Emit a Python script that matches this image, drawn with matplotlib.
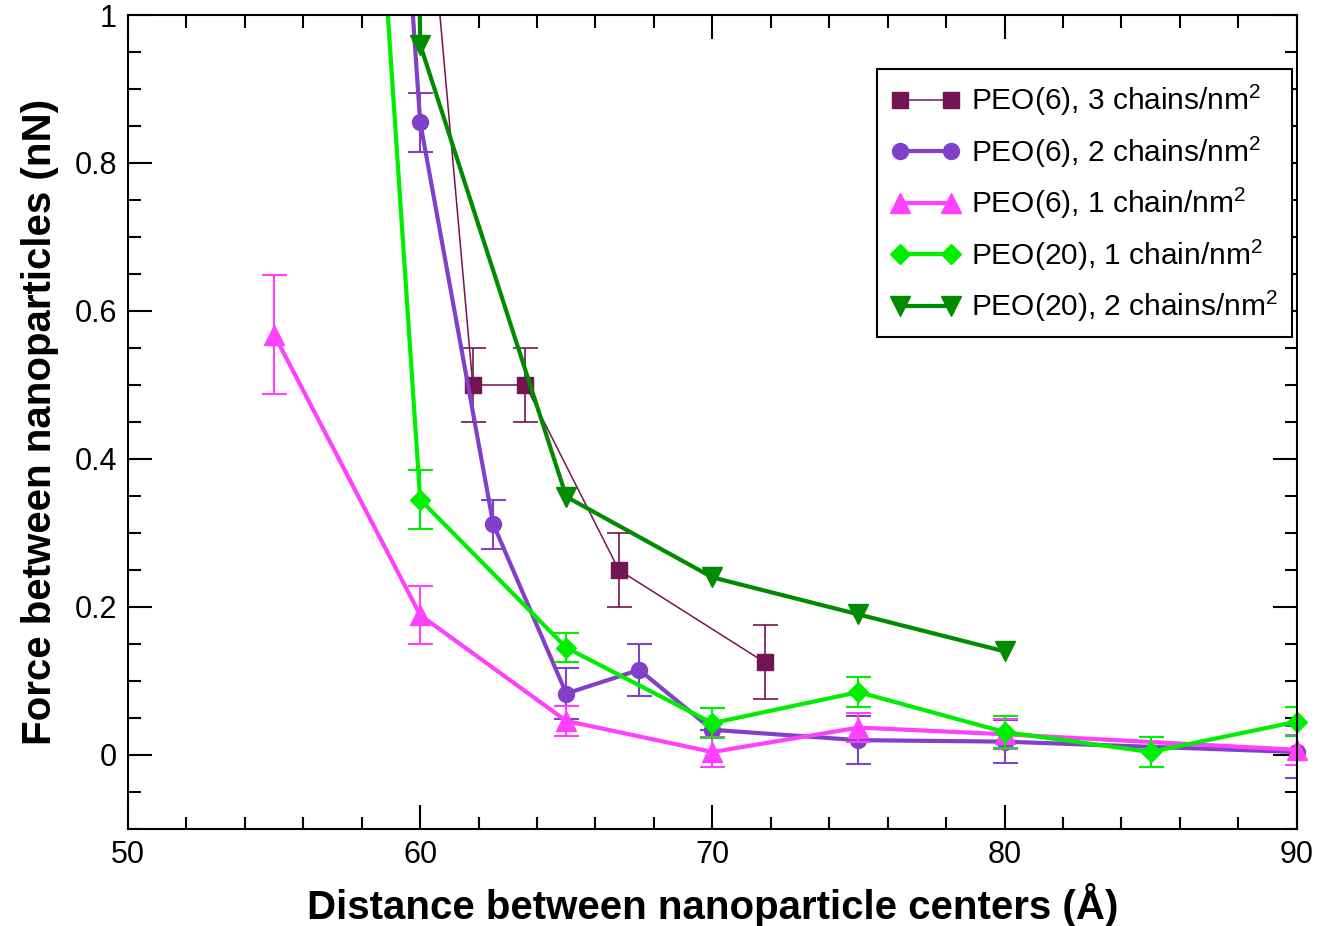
import numpy as np
import matplotlib
matplotlib.use('Agg')
import matplotlib.pyplot as plt
from matplotlib.lines import Line2D
from matplotlib.ticker import MultipleLocator

plt.rcParams['font.family'] = ['Liberation Sans', 'DejaVu Sans']
plt.rcParams['mathtext.fontset'] = 'custom'
plt.rcParams['mathtext.rm'] = 'Liberation Sans'

# PEO(6), 3 chains/nm^2
x_p6_3 = [60.0, 61.8, 63.6, 66.8, 71.8]
y_p6_3 = [1.30, 0.50, 0.50, 0.25, 0.125]
e_p6_3 = [0.0, 0.05, 0.05, 0.05, 0.05]

# PEO(6), 2 chains/nm^2
x_p6_2 = [57.5, 60, 62.5, 65, 67.5, 70, 75, 80, 90]
y_p6_2 = [2.30, 0.855, 0.312, 0.083, 0.115, 0.034, 0.020, 0.018, 0.004]
e_p6_2 = [0.0, 0.04, 0.033, 0.035, 0.035, 0.0, 0.032, 0.029, 0.035]

# PEO(6), 1 chain/nm^2
x_p6_1 = [55, 60, 65, 70, 75, 80, 90]
y_p6_1 = [0.568, 0.189, 0.046, 0.004, 0.037, 0.028, 0.007]
e_p6_1 = [0.08, 0.039, 0.02, 0.02, 0.02, 0.02, 0.02]

# PEO(20), 1 chain/nm^2
x_p20_1 = [55, 60, 65, 70, 75, 80, 85, 90]
y_p20_1 = [3.30, 0.345, 0.145, 0.043, 0.085, 0.031, 0.004, 0.045]
e_p20_1 = [0.0, 0.04, 0.02, 0.02, 0.02, 0.021, 0.02, 0.02]

# PEO(20), 2 chains/nm^2
x_p20_2 = [59.8, 60, 65, 70, 75, 80]
y_p20_2 = [1.50, 0.96, 0.349, 0.24, 0.19, 0.14]

labels = ['PEO(6), 3 chains/nm$^2$', 'PEO(6), 2 chains/nm$^2$',
          'PEO(6), 1 chain/nm$^2$', 'PEO(20), 1 chain/nm$^2$',
          'PEO(20), 2 chains/nm$^2$']

fig = plt.figure(figsize=(13.34, 9.26), dpi=100)
ax = fig.add_axes([0.096, 0.1048, 0.876, 0.879])

series = [
    (x_p6_3, y_p6_3, e_p6_3, '#741452', 's', 11.5, 1.1, 1.2),
    (x_p6_2, y_p6_2, e_p6_2, '#8040C8', 'o', 11.5, 3.0, 1.5),
    (x_p6_1, y_p6_1, e_p6_1, '#FF40FF', '^', 14, 3.0, 1.5),
    (x_p20_1, y_p20_1, e_p20_1, '#00EE00', 'D', 10.5, 3.0, 1.5),
    (x_p20_2, y_p20_2, None, '#008B00', 'v', 14, 3.0, 1.5),
]

handles = []
for x, y, e, c, m, ms, lw, elw in series:
    if e is not None:
        ax.errorbar(x, y, yerr=e, fmt='none', ecolor=c, elinewidth=elw,
                    capsize=9, capthick=elw)
    ax.plot(x, y, color=c, lw=lw)
    ax.plot(x, y, linestyle='none', marker=m, ms=ms, color=c, clip_on=False)
    handles.append(Line2D([], [], color=c, lw=lw, marker=m, ms=ms))

ax.set_xlim(50, 90)
ax.set_ylim(-0.1, 1.0)
ax.xaxis.set_major_locator(MultipleLocator(10))
ax.xaxis.set_minor_locator(MultipleLocator(2))
ax.yaxis.set_minor_locator(MultipleLocator(0.05))
ax.set_yticks([0, 0.2, 0.4, 0.6, 0.8, 1.0])
ax.set_yticklabels(['0', '0.2', '0.4', '0.6', '0.8', '1'])
ax.tick_params(which='both', direction='in', top=True, right=True,
               labelsize=22, width=1.5)
ax.tick_params(which='major', length=17, pad=8)
ax.tick_params(which='minor', length=9)
for s in ax.spines.values():
    s.set_linewidth(1.5)

ax.set_xlabel('Distance between nanoparticle centers (Å)', fontsize=29,
              fontweight='bold', labelpad=9)
ax.set_ylabel('Force between nanoparticles (nN)', fontsize=29,
              fontweight='bold', labelpad=11)

leg = ax.legend(handles, labels, loc='upper right', bbox_to_anchor=(0.9957, 0.9337),
                borderaxespad=0, fontsize=21.5, numpoints=2, handlelength=2.3,
                handletextpad=0.4, labelspacing=0.52, borderpad=0.45,
                fancybox=False, edgecolor='black', framealpha=1)
leg.get_frame().set_linewidth(1.5)

fig.savefig('out.png', dpi=100)
